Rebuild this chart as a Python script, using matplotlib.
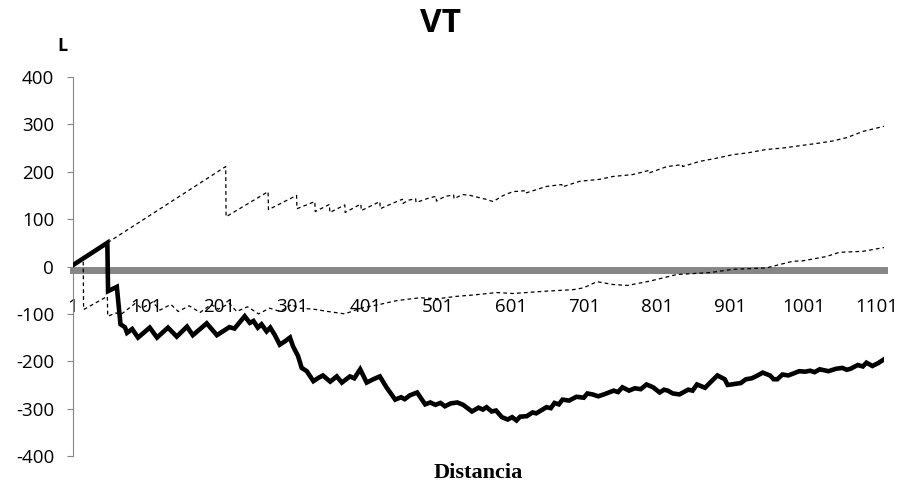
from matplotlib import pyplot as plt

# thick black series (index, L)
main_x = [1, 48, 49, 61, 66, 72, 75, 82, 90, 106, 116, 131, 143, 157, 165, 184, 198,
          215, 222, 236, 243, 248, 254, 259, 266, 271, 277, 284, 291, 298, 302, 309,
          314, 321, 330, 337, 343, 353, 362, 369, 380, 386, 394, 403, 412, 421, 430,
          442, 450, 455, 462, 472, 483, 490, 497, 504, 510, 518, 527, 535, 547, 556,
          562, 567, 574, 580, 588, 596, 602, 608, 613, 622, 630, 635, 649, 655, 660,
          666, 671, 680, 690, 700, 705, 712, 720, 731, 741, 747, 753, 762, 770, 778,
          786, 795, 804, 810, 815, 822, 831, 843, 849, 855, 866, 875, 883, 893, 897,
          902, 915, 922, 930, 938, 945, 955, 960, 965, 972, 980, 995, 1003, 1010,
          1016, 1023, 1035, 1045, 1054, 1060, 1065, 1075, 1082, 1087, 1095, 1103, 1111]
main_y = [3, 50, -52, -43, -122, -128, -140, -132, -150, -129, -150, -129, -148, -127,
          -145, -120, -145, -128, -131, -105, -119, -115, -129, -122, -137, -129, -144,
          -165, -158, -150, -168, -189, -214, -221, -242, -235, -230, -243, -232, -245,
          -232, -236, -217, -245, -238, -232, -255, -281, -276, -280, -272, -266, -291,
          -287, -292, -288, -295, -289, -287, -292, -306, -298, -302, -297, -306, -304,
          -318, -323, -318, -325, -317, -316, -308, -310, -297, -299, -288, -291, -281,
          -283, -275, -277, -268, -270, -274, -268, -262, -265, -255, -262, -257, -259,
          -249, -255, -266, -260, -262, -268, -270, -260, -262, -249, -256, -242, -230,
          -238, -250, -249, -246, -238, -236, -230, -224, -230, -238, -238, -228, -230,
          -221, -222, -220, -223, -217, -221, -216, -214, -218, -216, -208, -211, -203,
          -210, -204, -196]

# upper dashed limit
upper_x = [1, 48, 210, 210.5, 268, 268.5, 307, 307.5, 332, 332.5, 352, 352.5, 373, 373.5,
           395, 395.5, 421, 421.5, 444, 452, 452.5, 460, 470, 470.5, 489, 498, 498.5,
           510, 522, 522.5, 534, 545, 558, 566, 576, 590, 603, 620, 620.5, 649, 670,
           670.5, 695, 722, 740, 767, 790, 790.5, 814, 835, 835.5, 859, 880, 904, 925,
           950, 972, 996, 1020, 1041, 1060, 1082, 1111]
upper_y = [3, 50, 211, 105, 158, 120, 150, 122, 137, 116, 131, 114, 130, 114, 132, 118,
           137, 122, 137, 142, 133, 140, 143, 135, 145, 148, 138, 148, 151, 143, 152,
           150, 145, 142, 137, 150, 158, 160, 155, 169, 173, 168, 180, 184, 190, 194,
           203, 198, 211, 215, 211, 222, 228, 236, 240, 247, 250, 255, 260, 265, 272,
           285, 296]

# lower dashed limit
lower_x = [15, 15.5, 48, 48.5, 60, 66, 86, 95, 110, 120, 135, 145, 160, 175, 190, 200,
           215, 225, 240, 255, 270, 285, 300, 310, 330, 350, 373, 395, 421, 444, 476,
           500, 526, 550, 581, 603, 649, 685, 700, 718, 740, 760, 790, 814, 827, 860,
           872, 904, 950, 986, 1000, 1032, 1050, 1082, 1111]
lower_y = [10, -91, -63, -105, -98, -102, -78, -88, -75, -92, -80, -95, -83, -97, -80,
           -90, -78, -95, -85, -100, -88, -95, -80, -88, -90, -95, -100, -88, -80, -72,
           -66, -68, -63, -60, -55, -57, -52, -49, -45, -32, -38, -40, -31, -22, -17,
           -14, -13, -6, -3, 11, 12, 21, 30, 32, 40]

xtick_vals = [1, 101, 201, 301, 401, 501, 601, 701, 801, 901, 1001, 1101]
ytick_vals = [-400, -300, -200, -100, 0, 100, 200, 300, 400]

SANS = 'Open Sans'
GREY = '#868686'

W, H = 903, 483
fig = plt.figure(figsize=(W / 100, H / 100), dpi=100)
ax = fig.add_axes([73 / W, (H - 456) / H, (884 - 73) / W, (456 - 77) / H])

ax.plot(upper_x, upper_y, color='black', linewidth=0.9, dashes=(3, 2.5), zorder=3)
ax.plot(lower_x, lower_y, color='black', linewidth=0.9, dashes=(3, 2.5), zorder=3)
ax.plot(main_x, main_y, color='black', linewidth=3.3, solid_joinstyle='miter', zorder=4)

ax.set_xlim(1, 1111)
ax.set_ylim(-400, 400)

for s in ['top', 'right']:
  ax.spines[s].set_visible(False)
ax.spines['left'].set_color(GREY)
ax.spines['left'].set_linewidth(0.8)
ax.spines['bottom'].set_position(('data', -7))
ax.spines['bottom'].set_color(GREY)
ax.spines['bottom'].set_linewidth(5)

ax.set_yticks(ytick_vals)
ax.set_yticklabels([str(v) for v in ytick_vals], fontsize=13.5, family=SANS)
ax.tick_params(axis='y', length=4.5, color=GREY, width=0.8, pad=9)

ax.set_xticks(xtick_vals)
ax.set_xticklabels([str(v) for v in xtick_vals], fontsize=13.5, family=SANS)
ax.tick_params(axis='x', length=0, pad=20)

fig.text(441 / W, 1 - 24 / H, 'VT', ha='center', va='center',
         fontsize=24, fontweight='bold', family=SANS)
fig.text(62 / W, 1 - 46 / H, 'L', ha='center', va='center',
         fontsize=13, fontweight='bold', family=SANS)
fig.text(478 / W, 1 - 473 / H, 'Distancia', ha='center', va='center',
         fontsize=16, fontweight='bold', family='Liberation Serif')

fig.savefig('out.png', dpi=100)
